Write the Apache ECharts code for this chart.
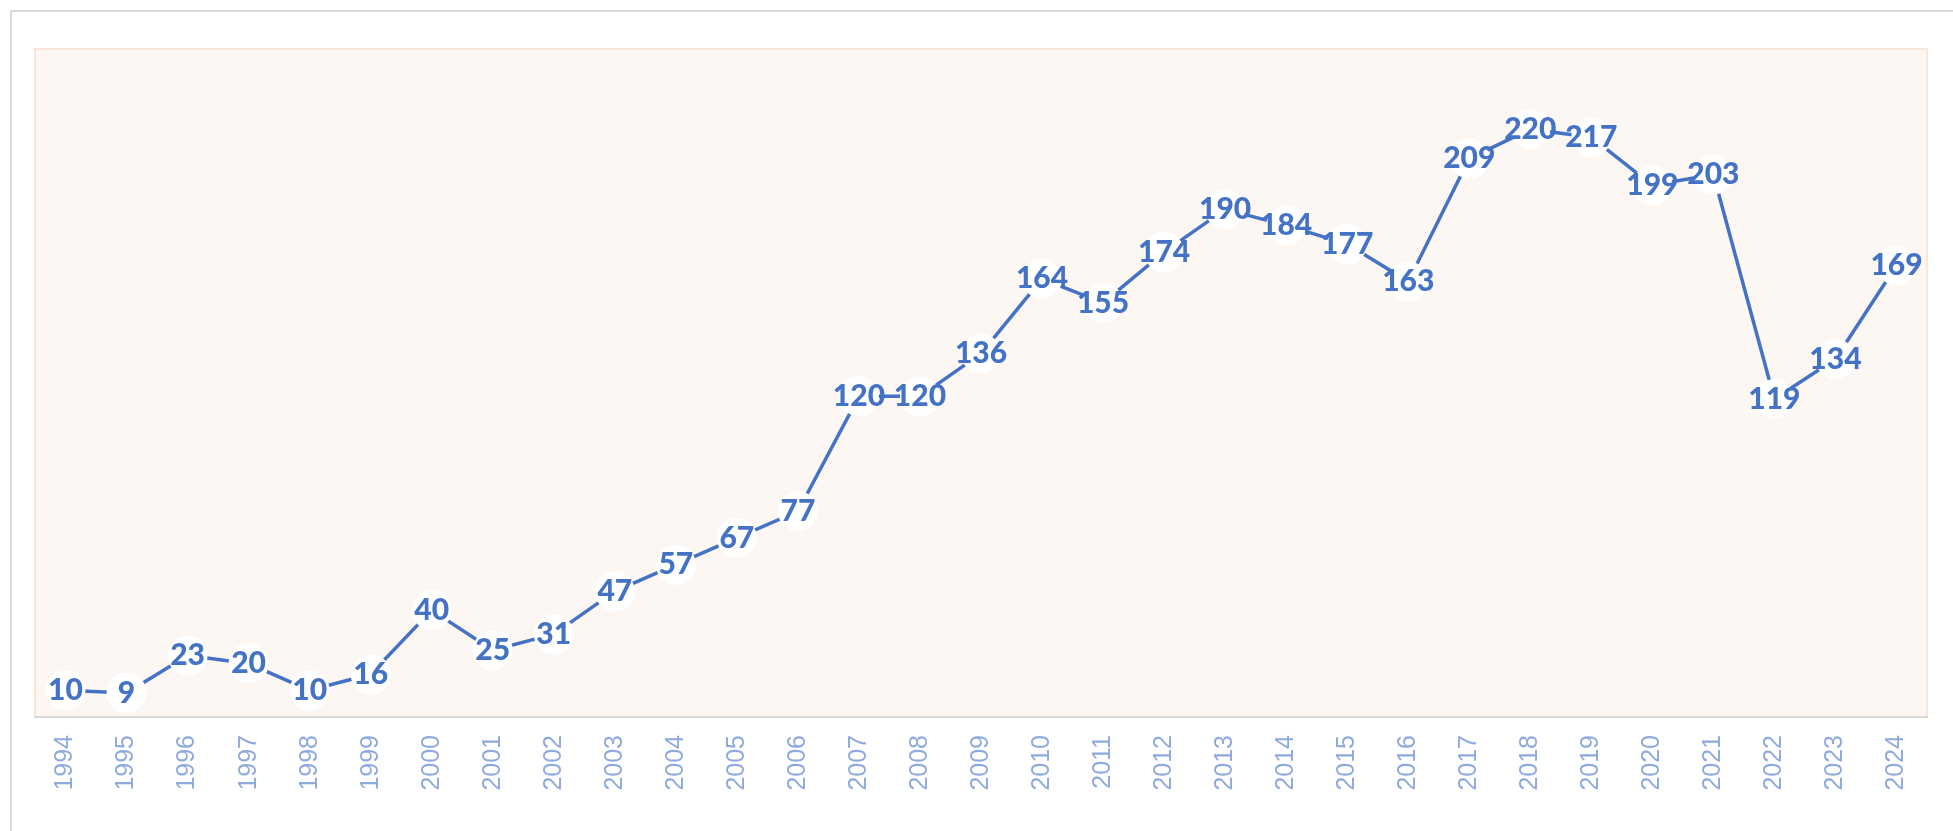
<!DOCTYPE html>
<html>
<head>
<meta charset="utf-8">
<script src="https://cdn.jsdelivr.net/npm/echarts@6/dist/echarts.min.js"></script>
<style>
    html, body { margin: 0; padding: 0; background: #fff; }
    .frame {
        position: absolute; left: 10px; top: 10px; right: -10px; bottom: -10px;
        border-left: 2px solid #d9d9d9; border-top: 2px solid #d9d9d9;
    }
    #chart { position: absolute; left: 0; top: 0; width: 1953px; height: 831px; }
</style>
</head>
<body>
<div class="frame"></div>
<div id="chart"></div>
<script>
// 年份
var years = ['1994', '1995', '1996', '1997', '1998', '1999', '2000', '2001', '2002', '2003',
    '2004', '2005', '2006', '2007', '2008', '2009', '2010', '2011', '2012', '2013',
    '2014', '2015', '2016', '2017', '2018', '2019', '2020', '2021', '2022', '2023', '2024'];
// 每年数值
var values = [10, 9, 23, 20, 10, 16, 40, 25, 31, 47,
    57, 67, 77, 120, 120, 136, 164, 155, 174, 190,
    184, 177, 163, 209, 220, 217, 199, 203, 119, 134, 169];

var myChart = echarts.init(document.getElementById('chart'));
var option = {
    animation: false,
    grid: {
        left: 35,
        top: 49,
        right: 26,
        bottom: 114,
        show: true,
        backgroundColor: '#FDF7F3',
        borderColor: '#FBE5D6',
        borderWidth: 2
    },
    xAxis: {
        type: 'category',
        data: years,
        boundaryGap: true,
        axisLine: {
            lineStyle: { color: '#D9D9D9', width: 2 }
        },
        axisTick: { show: false },
        axisLabel: {
            interval: 0,
            rotate: 90,
            margin: 18,
            color: '#8FAADC',
            fontSize: 25,
            fontFamily: '"Liberation Sans Narrow", "Liberation Sans", sans-serif'
        }
    },
    yAxis: {
        type: 'value',
        min: 0,
        max: 250,
        show: false,
        splitLine: { show: false }
    },
    series: [
        {
            type: 'line',
            data: values,
            lineStyle: { color: '#4472C4', width: 3.5 },
            symbol: 'circle',
            symbolSize: 40,
            itemStyle: { color: '#ffffff', borderWidth: 0 },
            label: {
                show: true,
                position: 'inside',
                color: '#4472C4',
                fontSize: 30,
                fontWeight: 900,
                fontFamily: 'Lato, "Open Sans", sans-serif'
            }
        }
    ]
};
myChart.setOption(option);
</script>
</body>
</html>
